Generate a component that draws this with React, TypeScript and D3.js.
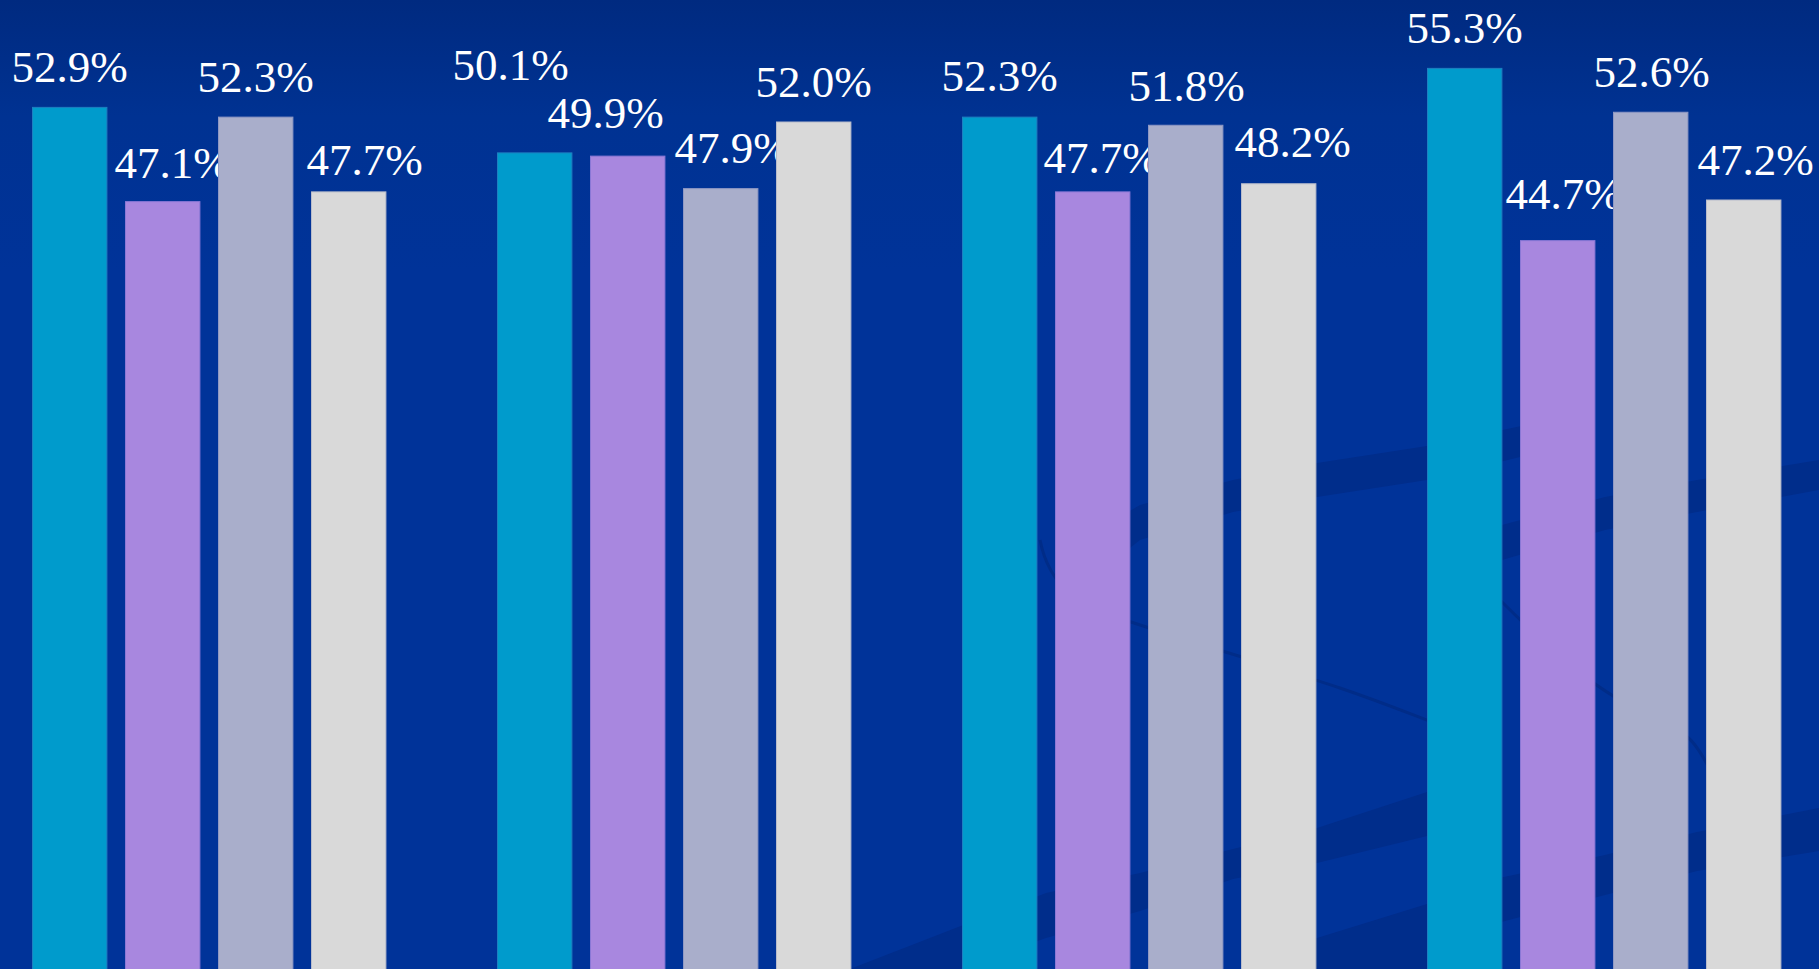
import React from "react";
import * as d3 from "d3";

const categories = ["Group A", "Group B", "Group C", "Group D"];
const seriesNames = ["Series 1", "Series 2", "Series 3", "Series 4"];
const series1 = [52.9, 50.1, 52.3, 55.3];
const series2 = [47.1, 49.9, 47.7, 44.7];
const series3 = [52.3, 47.9, 51.8, 52.6];
const series4 = [47.7, 52.0, 48.2, 47.2];
const seriesValues = [series1, series2, series3, series4];
const colors = ["#009BCC", "#A887DF", "#A9AECB", "#D9D9D9"];
const strokes = ["#1E7FC0", "#8A78D6", "#8F98C4", "#B8BCCB"];

// hand-placed label nudges [dx, baseline offset from bar top], per category then series
const labelNudges = [
  [[0, -25], [10, -24], [0, -25], [16, -17]],
  [[-24, -73], [-22, -28], [12, -26], [0, -25]],
  [[0, -26], [9, -19], [1, -24], [14, -27]],
  [[0, -25], [6, -32], [1, -25], [12, -25]],
];

// decorative background swoosh outlines
const swooshes: [number, number][][] = [
  [[1080, 540], [1140, 505], [1233, 480], [1317, 463], [1427, 446], [1540, 422], [1540, 452], [1427, 480], [1317, 497], [1233, 512], [1140, 540], [1090, 580]],
  [[1470, 560], [1502, 525], [1605, 497], [1697, 480], [1819, 460], [1819, 490], [1697, 512], [1605, 530], [1502, 560]],
  [[850, 969], [1046, 893], [1140, 873], [1233, 849], [1317, 828], [1427, 792], [1470, 782], [1470, 825], [1427, 836], [1317, 863], [1233, 879], [1140, 911], [1046, 938], [960, 969]],
  [[1490, 880], [1605, 855], [1697, 832], [1819, 808], [1819, 851], [1697, 871], [1605, 895], [1490, 925]],
  [[1250, 969], [1317, 938], [1427, 904], [1470, 895], [1470, 969]],
];

const W = 1819;
const H = 969;

export default function App() {
  const x0 = d3
    .scaleBand<string>()
    .domain(categories)
    .range([23.2, 23.2 + 465 * categories.length])
    .paddingInner(0)
    .paddingOuter(0);
  const x1 = d3
    .scaleBand<string>()
    .domain(seriesNames)
    .range([0, 372])
    .paddingInner(0.2)
    .paddingOuter(0.1);
  const y = d3.scaleLinear().domain([0, 60]).range([967, 967 - 60 * 16.25]);
  const area = d3.line().curve(d3.curveLinearClosed);

  return (
    <svg
      width={W}
      height={H}
      style={{ position: "fixed", left: 0, top: 0, display: "block" }}
    >
      <defs>
        <linearGradient id="bg" x1="0" y1="0" x2="0" y2="1">
          <stop offset="0" stopColor="#002A80" />
          <stop offset="0.12" stopColor="#003292" />
          <stop offset="0.28" stopColor="#003399" />
          <stop offset="1" stopColor="#003399" />
        </linearGradient>
      </defs>
      <rect x={0} y={0} width={W} height={H} fill="url(#bg)" />
      <g fill="#002D8B">
        {swooshes.map((pts, i) => (
          <path key={i} d={area(pts) || ""} />
        ))}
      </g>
      <g fill="none" stroke="#002C88" strokeWidth={3}>
        <path d="M1040,540 C1050,590 1080,605 1131,622 C1200,645 1280,668 1340,688 C1390,705 1420,718 1440,725" />
        <path d="M1500,600 C1550,650 1600,695 1650,715 C1690,730 1700,750 1710,770" />
      </g>
      {categories.map((c, ci) => (
        <g key={c} transform={`translate(${x0(c)},0)`}>
          {seriesNames.map((s, si) => {
            const v = seriesValues[si][ci];
            const bx = x1(s)!;
            const bw = x1.bandwidth();
            const [dx, dy] = labelNudges[ci][si];
            return (
              <g key={s}>
                <rect
                  x={bx}
                  y={y(v)}
                  width={bw}
                  height={H + 20 - y(v)}
                  fill={colors[si]}
                  stroke={strokes[si]}
                  strokeWidth={1}
                />
                <text
                  x={bx + bw / 2 + dx}
                  y={y(v) + dy}
                  textAnchor="middle"
                  fill="#FFFFFF"
                  fontFamily="'Liberation Serif', 'DejaVu Serif', serif"
                  fontSize={45}
                >
                  {v.toFixed(1)}%
                </text>
              </g>
            );
          })}
        </g>
      ))}
    </svg>
  );
}
